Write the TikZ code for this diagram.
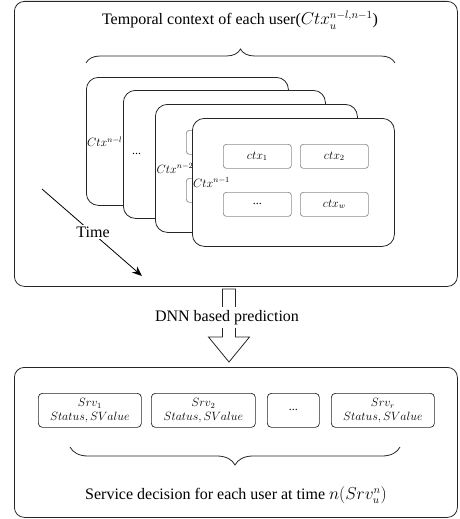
\documentclass[tikz,border=0pt]{standalone}
\usepackage{fontspec}
\setmainfont{Liberation Serif}
\usetikzlibrary{decorations.pathreplacing,arrows.meta}
\begin{document}
\begin{tikzpicture}[x=1pt,y=-1pt,
  outerbox/.style={draw=black!85, line width=0.8pt, rounded corners=10pt, anchor=north west, inner sep=0pt},
  card/.style={draw=black!85, fill=white, line width=0.8pt, rounded corners=12pt, minimum width=202pt, minimum height=128pt, anchor=north west, inner sep=0pt},
  ctxbox/.style={draw=black!45, fill=white, line width=0.7pt, rounded corners=3pt, minimum width=68pt, minimum height=24pt, anchor=north west, inner sep=0pt, font=\fontsize{12}{14}\selectfont},
  srvbox/.style={draw=black!85, line width=0.7pt, rounded corners=4pt, minimum height=34pt, anchor=north west, inner sep=0pt, align=center, font=\fontsize{12}{14}\selectfont},
  cardlabel/.style={anchor=west, inner sep=0pt, font=\fontsize{12}{14}\selectfont},
  bigtext/.style={font=\fontsize{16}{19}\selectfont},
  bracestyle/.style={draw=black!85, line width=0.8pt, decorate},
]
\useasboundingbox (0,0) rectangle (459,519);

% top container
\node[outerbox, minimum width=443pt, minimum height=285pt] (topbox) at (14,1) {};
\node[bigtext] (title) at (240,20) {Temporal context of each user($Ctx_u^{n-l,n-1}$)};
\coordinate (tbl) at (86,63);
\coordinate (tbr) at (395,63);
\draw[bracestyle, decoration={brace, amplitude=14pt}] (tbl) -- (tbr);

% stacked cards
\node[card] (c1) at (86,77) {};
\node[cardlabel] (l1) at ([xshift=1pt]c1.west) {$Ctx^{n-l}$};
\node[card] (c2) at (123,90) {};
\node[cardlabel] (l2) at ([xshift=9pt]c2.west) {...};
\node[card] (c3) at (155,104) {};
\node[ctxbox] (c3a) at (186,130) {};
\node[ctxbox] (c3b) at (263,130) {};
\node[ctxbox] (c3c) at (186,178) {};
\node[ctxbox] (c3d) at (263,178) {};
\node[cardlabel] (l3) at ([xshift=1.5pt]c3.west) {$Ctx^{n-2}$};
\node[card] (c4) at (192,118) {};
\node[ctxbox] (x1) at (223,144) {$ctx_1$};
\node[ctxbox] (x2) at (300,144) {$ctx_2$};
\node[ctxbox] (x3) at (223,192) {...};
\node[ctxbox] (x4) at (300,192) {$ctx_w$};
\node[cardlabel] (l4) at ([xshift=1pt]c4.west) {$Ctx^{n-1}$};

% time arrow
\coordinate (ts) at (42,189);
\coordinate (te) at (142,276);
\draw[line width=0.8pt, -{Stealth[length=10pt,width=8pt]}] (ts) -- (te);
\node[bigtext, fill=white, inner sep=2pt] (time) at (93,232) {Time};

% block arrow
\draw[line width=0.8pt, draw=black!85, fill=white]
  (222.5,289) -- (235.5,289) -- (235.5,337) -- (249.5,337) -- (229,362)
  -- (208.5,337) -- (222.5,337) -- cycle;
\node[bigtext, fill=white, inner sep=3pt] (dnn) at (227,317.5) {DNN based prediction};

% bottom container
\node[outerbox, minimum width=443pt, minimum height=150pt] (botbox) at (14,367) {};
\node[srvbox, minimum width=103pt] (s1) at (38,393) {$Srv_1$\\$Status, SValue$};
\node[srvbox, minimum width=104pt] (s2) at (151,393) {$Srv_2$\\$Status, SValue$};
\node[srvbox, minimum width=52pt] (s3) at (267,393) {...};
\node[srvbox, minimum width=103pt] (s4) at (331,393) {$Srv_r$\\$Status, SValue$};
\coordinate (bbl) at (70,447);
\coordinate (bbr) at (400,447);
\draw[bracestyle, decoration={brace, amplitude=18pt}] (bbr) -- (bbl);
\node[bigtext] (srvtext) at (236,495) {Service decision for each user at time $n(Srv_u^n)$};
\end{tikzpicture}
\end{document}
